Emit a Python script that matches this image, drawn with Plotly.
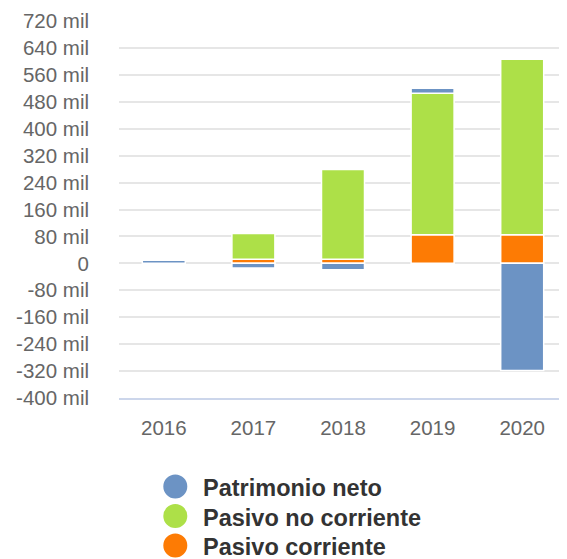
import plotly.graph_objects as go

categories = ["2016", "2017", "2018", "2019", "2020"]
pasivo_corriente = [0, 12, 12, 85, 85]
pasivo_no_corriente = [0, 77, 267, 420, 521]
patrimonio_neto = [9, -14, -19, 15, -318]

tick_values = [-400, -320, -240, -160, -80, 0, 80, 160, 240, 320, 400, 480, 560, 640, 720]
tick_labels = ["-400 mil", "-320 mil", "-240 mil", "-160 mil", "-80 mil", "0", "80 mil",
               "160 mil", "240 mil", "320 mil", "400 mil", "480 mil", "560 mil",
               "640 mil", "720 mil"]

legend_names = ["Patrimonio neto", "Pasivo no corriente", "Pasivo corriente"]

C_BLUE = "#6c93c4"
C_GREEN = "#ade048"
C_ORANGE = "#fd7b04"
legend_colors = [C_BLUE, C_GREEN, C_ORANGE]

# page body has an 8px margin; size the figure to fill the rest of the window
OFF = 8
W, H = 567 - OFF, 559 - OFF
ML, MR, MT = 119 - OFF, 0, 21 - OFF
PLOT_BOTTOM = 398 - OFF
MB = H - PLOT_BOTTOM
PW, PH = W - ML - MR, H - MT - MB

def px_x(px):
    return (px - OFF - ML) / PW

def px_y(py):
    return (PLOT_BOTTOM - (py - OFF)) / PH

fig = go.Figure()
for name, vals, col in [("Pasivo corriente", pasivo_corriente, C_ORANGE),
                        ("Pasivo no corriente", pasivo_no_corriente, C_GREEN),
                        ("Patrimonio neto", patrimonio_neto, C_BLUE)]:
    fig.add_trace(go.Bar(x=categories, y=vals, name=name, marker_color=col,
                         marker_line_color="white", marker_line_width=1.5,
                         showlegend=False))

# legend drawn as circle shapes + text annotations
legend_rows_y = [486.5, 516, 545.5]
shapes = []
annotations = []
for name, col, ry in zip(legend_names, legend_colors, legend_rows_y):
    shapes.append(dict(type="circle", xref="paper", yref="paper",
                       xsizemode="pixel", ysizemode="pixel",
                       xanchor=px_x(175.3), yanchor=px_y(ry),
                       x0=-12, x1=12, y0=-12, y1=12,
                       fillcolor=col, line=dict(width=0)))
    annotations.append(dict(text="<b>%s</b>" % name, xref="paper", yref="paper",
                            x=px_x(200.5), y=px_y(ry + 1.5), xanchor="left",
                            yanchor="middle", showarrow=False,
                            font=dict(size=23.5, color="#333333",
                                      family="Liberation Sans, Arial, sans-serif")))

fig.update_layout(
    width=W, height=H,
    margin=dict(l=ML, r=MR, t=MT, b=MB, autoexpand=False),
    barmode="relative", bargap=0.52,
    plot_bgcolor="white", paper_bgcolor="white",
    font=dict(family="Liberation Sans, Arial, sans-serif", color="#666666", size=20),
    showlegend=False,
    shapes=shapes,
    annotations=annotations,
    xaxis=dict(showgrid=False, showline=True, linecolor="#ccd6eb", linewidth=2,
               ticks="", ticklabelstandoff=10, tickfont=dict(size=20.5, color="#666666"),
               automargin=False, tickangle=0, fixedrange=True),
    yaxis=dict(range=[-400, 720], tickvals=tick_values, ticktext=tick_labels,
               showgrid=True, gridcolor="#e6e6e6", gridwidth=2,
               zeroline=True, zerolinecolor="#e6e6e6", zerolinewidth=2,
               showline=False, ticks="", ticklabelstandoff=29, automargin=False,
               tickfont=dict(size=20.5, color="#666666"), fixedrange=True),
)

fig.write_html("out.html")
